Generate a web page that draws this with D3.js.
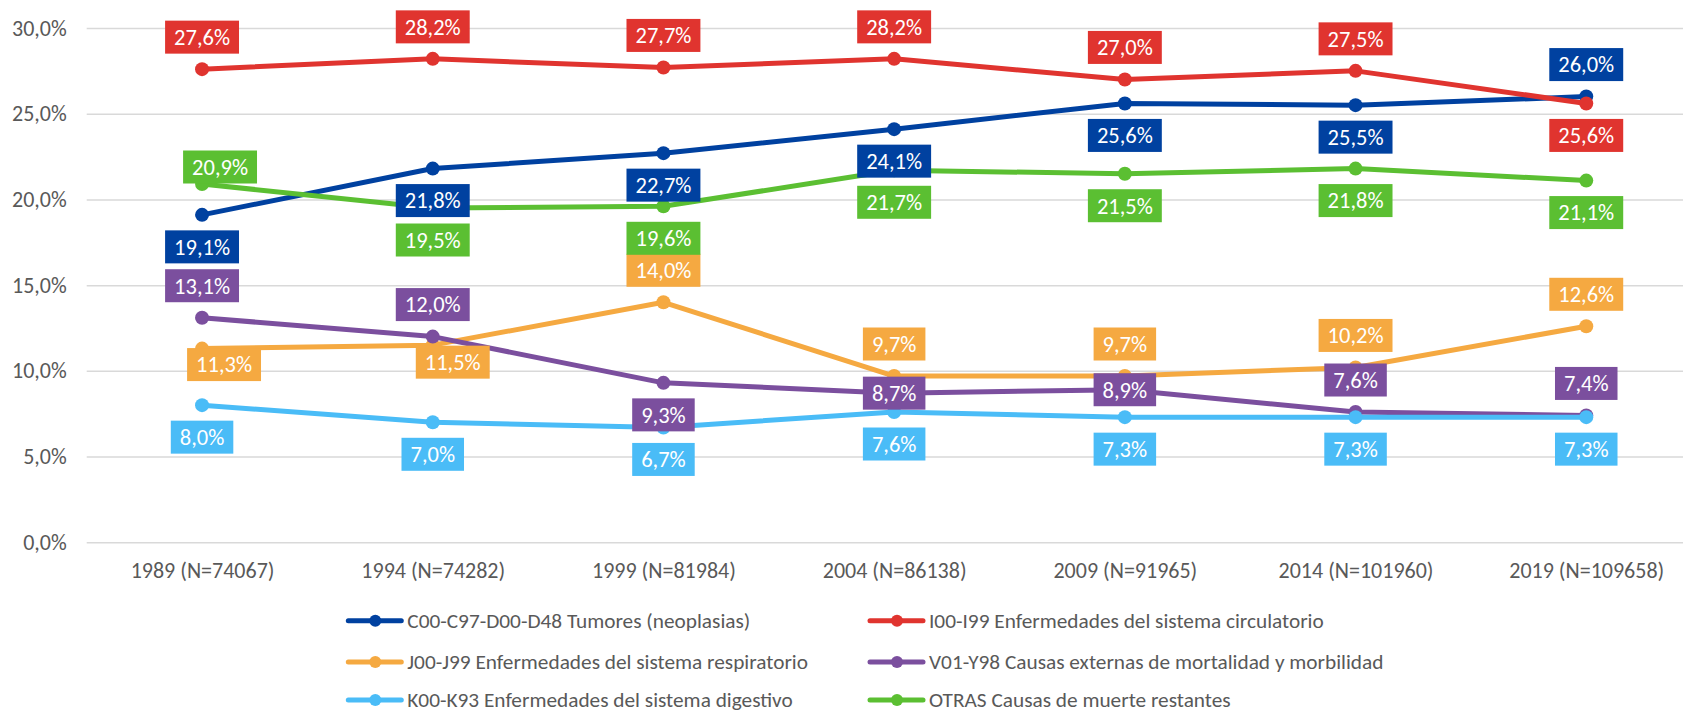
<!DOCTYPE html>
<html>
<head>
<meta charset="utf-8">
<script src="https://cdn.jsdelivr.net/npm/d3@7"></script>
<style>
  html, body { margin: 0; padding: 0; background: #fff; }
  svg { display: block; font-family: Carlito, Calibri, Lato, sans-serif; }
</style>
</head>
<body>
<svg id="chart"></svg>
<script>
// categories and series (percent of deaths)
const years = ["1989 (N=74067)", "1994 (N=74282)", "1999 (N=81984)", "2004 (N=86138)",
               "2009 (N=91965)", "2014 (N=101960)", "2019 (N=109658)"];
const yTicks = [0, 5, 10, 15, 20, 25, 30];

const seriesNames = [
  "C00-C97-D00-D48 Tumores (neoplasias)",
  "I00-I99 Enfermedades del sistema circulatorio",
  "J00-J99 Enfermedades del sistema respiratorio",
  "V01-Y98 Causas externas de mortalidad y morbilidad",
  "K00-K93 Enfermedades del sistema digestivo",
  "OTRAS Causas de muerte restantes"
];
const tumores      = [19.1, 21.8, 22.7, 24.1, 25.6, 25.5, 26.0];
const circulatorio = [27.6, 28.2, 27.7, 28.2, 27.0, 27.5, 25.6];
const respiratorio = [11.3, 11.5, 14.0, 9.7, 9.7, 10.2, 12.6];
const externas     = [13.1, 12.0, 9.3, 8.7, 8.9, 7.6, 7.4];
const digestivo    = [8.0, 7.0, 6.7, 7.6, 7.3, 7.3, 7.3];
const otras        = [20.9, 19.5, 19.6, 21.7, 21.5, 21.8, 21.1];
const seriesValues = [tumores, circulatorio, respiratorio, externas, digestivo, otras];

const colors = ["#0041A0", "#E0342F", "#F5A941", "#7B4F9E", "#4ABCF7", "#5BBF32"];

// where each data label sits: a = above, b = below, c = on the point
const labelPlace = [
  ["b", "b", "b", "b", "b", "b", "a"],
  ["a", "a", "a", "a", "a", "a", "b"],
  ["r1", "r2", "a", "a", "a", "a", "a"],
  ["a", "a", "b", "c", "c", "a", "a"],
  ["b", "b", "b", "b", "b", "b", "b"],
  ["r3", "b", "b", "b", "b", "b", "b"]
];
// hand-placed labels (dx, dy from the point)
const manual = { r1: [22, 16], r2: [20, 17], r3: [18, -17] };

const W = 1683, H = 714;
const svg = d3.select("#chart").attr("width", W).attr("height", H);

const x = d3.scalePoint().domain(years).range([86.7, 1701.6]).padding(0.5);
const y = d3.scaleLinear().domain([0, 30]).range([542.3, 28]);

const loc = d3.formatLocale({ decimal: ",", thousands: ".", grouping: [3], currency: ["", "€"] });
const pct = v => loc.format(".1f")(v) + "%";

// gridlines + y axis
const yAxis = svg.append("g")
  .attr("transform", "translate(86.7,0)")
  .call(d3.axisLeft(y).tickValues(yTicks).tickSize(-(1701.6 - 86.7)).tickPadding(20).tickFormat(pct));
yAxis.select(".domain").remove();
yAxis.selectAll(".tick line").attr("stroke", "#D9D9D9").attr("stroke-width", 1.5);
yAxis.selectAll(".tick text").attr("fill", "#595959").style("font-size", "22px")
  .style("font-family", "Carlito, Calibri, Lato, sans-serif");

// x labels
const xAxis = svg.append("g")
  .attr("transform", "translate(0,542.3)")
  .call(d3.axisBottom(x).tickSize(0).tickPadding(20));
xAxis.select(".domain").remove();
xAxis.selectAll(".tick text").attr("fill", "#595959").style("font-size", "22px")
  .style("font-family", "Carlito, Calibri, Lato, sans-serif");

const line = d3.line().x((d, i) => x(years[i])).y(d => y(d));

const plot = svg.append("g");
seriesValues.forEach((vals, s) => {
  const g = plot.append("g");
  g.append("path")
    .datum(vals)
    .attr("d", line)
    .attr("fill", "none")
    .attr("stroke", colors[s])
    .attr("stroke-width", 5)
    .attr("stroke-linejoin", "round");
  g.selectAll("circle")
    .data(vals)
    .enter().append("circle")
    .attr("cx", (d, i) => x(years[i]))
    .attr("cy", d => y(d))
    .attr("r", 7)
    .attr("fill", colors[s]);
});

// data labels
const labels = svg.append("g");
seriesValues.forEach((vals, s) => {
  vals.forEach((v, i) => {
    const p = labelPlace[s][i];
    let dx = 0, dy = 0;
    if (p === "a") dy = -32;
    else if (p === "b") dy = 32;
    else if (manual[p]) { dx = manual[p][0]; dy = manual[p][1]; }
    const cx = x(years[i]) + dx, cy = y(v) + dy;
    const g = labels.append("g").attr("transform", `translate(${cx},${cy})`);
    const rect = g.append("rect").attr("fill", colors[s]);
    const t = g.append("text")
      .attr("text-anchor", "middle")
      .attr("dy", "0.35em")
      .attr("fill", "#fff")
      .style("font-size", "22.5px")
      .text(pct(v));
    const tw = t.node().getComputedTextLength();
    const bw = tw + 18, bh = 33;
    rect.attr("x", -bw / 2).attr("y", -bh / 2).attr("width", bw).attr("height", bh);
  });
});

// legend
const legendRows = [620.7, 662, 700];
const legendCols = [348.3, 870];
const legend = svg.append("g");
seriesNames.forEach((name, s) => {
  const lx = legendCols[s % 2], ly = legendRows[Math.floor(s / 2)];
  const g = legend.append("g").attr("transform", `translate(${lx},${ly})`);
  g.append("line").attr("x1", 0).attr("x2", 53).attr("y1", 0).attr("y2", 0)
    .attr("stroke", colors[s]).attr("stroke-width", 5).attr("stroke-linecap", "round");
  g.append("circle").attr("cx", 27).attr("cy", 0).attr("r", 6).attr("fill", colors[s]);
  g.append("text").attr("x", 59).attr("dy", "0.35em")
    .attr("fill", "#595959").style("font-size", "21.3px").text(name);
});
</script>
</body>
</html>
